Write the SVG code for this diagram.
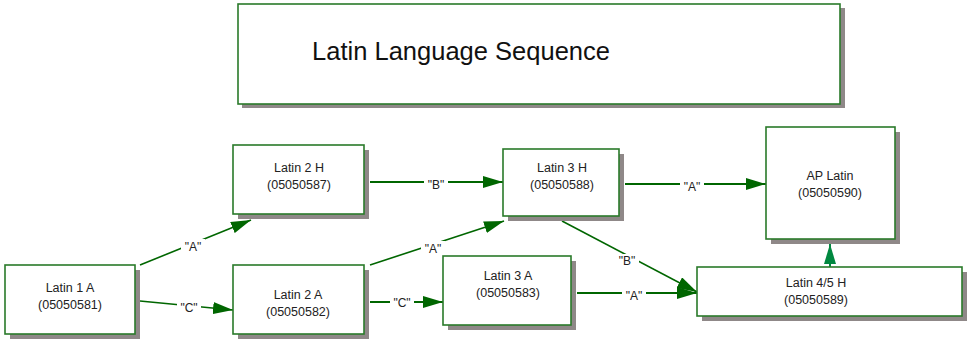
<svg xmlns="http://www.w3.org/2000/svg" width="969" height="339" viewBox="0 0 969 339">
<defs>
<style>
.box{fill:#fff;stroke:#2a7a2a;stroke-width:1.6}
.sh{fill:#8f8888}
.t{font-family:"Liberation Sans",Arial,sans-serif;font-size:12.5px;fill:#222;text-anchor:middle}
.lbl{font-family:"Liberation Sans",Arial,sans-serif;font-size:12px;fill:#222;text-anchor:middle}
.e{stroke:#006600;stroke-width:2.2;fill:none}
.d{stroke:#006600;stroke-width:1.6;fill:none}
.lb{fill:#fff}
</style>
<marker id="ah" viewBox="0 0 20 12" refX="20" refY="6" markerWidth="20" markerHeight="12" markerUnits="userSpaceOnUse" orient="auto">
<path d="M0,0 L20,6 L0,12 Z" fill="#006600"/>
</marker>
<marker id="ah2" viewBox="0 0 20 12" refX="20" refY="6" markerWidth="20" markerHeight="12" markerUnits="userSpaceOnUse" orient="auto">
<path d="M0,0 L20,6 L0,12 Z" fill="#008840"/>
</marker>
</defs>
<rect width="969" height="339" fill="#fff"/>

<g id="title">
<rect class="sh" x="242" y="8" width="603" height="100"/>
<rect class="box" x="238" y="4" width="602" height="100"/>
<text x="312" y="60" font-family="'Liberation Sans',Arial,sans-serif" font-size="25.5" fill="#111" textLength="298">Latin Language Sequence</text>
</g>

<g id="connectors">
<line class="d" x1="140" y1="265" x2="251" y2="220" marker-end="url(#ah)"/>
<rect class="lb" x="181" y="239" width="24" height="14"/>
<text class="lbl" x="193" y="251">"A"</text>

<line class="d" x1="140" y1="301" x2="233" y2="310" marker-end="url(#ah)"/>
<rect class="lb" x="177" y="300" width="24" height="14"/>
<text class="lbl" x="189" y="312">"C"</text>

<line class="e" x1="370" y1="182" x2="503" y2="182" marker-end="url(#ah)"/>
<rect class="lb" x="424" y="177" width="24" height="14"/>
<text class="lbl" x="436" y="189">"B"</text>

<line class="d" x1="370" y1="265" x2="504" y2="221" marker-end="url(#ah)"/>
<rect class="lb" x="421" y="241" width="24" height="14"/>
<text class="lbl" x="433" y="253">"A"</text>

<line class="e" x1="370" y1="302" x2="443" y2="302" marker-end="url(#ah)"/>
<rect class="lb" x="390" y="296" width="24" height="14"/>
<text class="lbl" x="402" y="307">"C"</text>

<line class="e" x1="625" y1="184" x2="766" y2="184" marker-end="url(#ah)"/>
<rect class="lb" x="680" y="179" width="24" height="14"/>
<text class="lbl" x="692" y="191">"A"</text>

<line class="d" x1="562" y1="221" x2="697" y2="292" marker-end="url(#ah)"/>
<rect class="lb" x="615" y="254" width="24" height="14"/>
<text class="lbl" x="627" y="265">"B"</text>

<line class="e" x1="577" y1="293" x2="697" y2="293" marker-end="url(#ah)"/>
<rect class="lb" x="622" y="288" width="24" height="14"/>
<text class="lbl" x="634" y="300">"A"</text>

<line x1="830" y1="267" x2="830" y2="244" stroke="#008840" stroke-width="2" marker-end="url(#ah2)"/>
</g>

<g id="n1">
<rect class="sh" x="10" y="270" width="130" height="69"/>
<rect class="box" x="5" y="265" width="130" height="69"/>
<text class="t" x="70" y="292">Latin 1 A</text>
<text class="t" x="70" y="309">(05050581)</text>
</g>

<g id="n2">
<rect class="sh" x="238" y="150" width="131" height="69"/>
<rect class="box" x="233" y="145" width="131" height="69"/>
<text class="t" x="299" y="172">Latin 2 H</text>
<text class="t" x="299" y="189">(05050587)</text>
</g>

<g id="n3">
<rect class="sh" x="238" y="270" width="131" height="69"/>
<rect class="box" x="233" y="265" width="131" height="69"/>
<text class="t" x="298" y="299">Latin 2 A</text>
<text class="t" x="298" y="316">(05050582)</text>
</g>

<g id="n4">
<rect class="sh" x="508" y="154" width="116" height="67"/>
<rect class="box" x="503" y="149" width="116" height="67"/>
<text class="t" x="562" y="172">Latin 3 H</text>
<text class="t" x="562" y="189">(05050588)</text>
</g>

<g id="n5">
<rect class="sh" x="448" y="261" width="128" height="69"/>
<rect class="box" x="443" y="256" width="128" height="69"/>
<text class="t" x="508" y="280">Latin 3 A</text>
<text class="t" x="508" y="297">(05050583)</text>
</g>

<g id="n6">
<rect class="sh" x="771" y="132" width="129" height="112"/>
<rect class="box" x="766" y="127" width="129" height="112"/>
<text class="t" x="830" y="180">AP Latin</text>
<text class="t" x="830" y="197">(05050590)</text>
</g>

<g id="n7">
<rect class="sh" x="702" y="272" width="265" height="49"/>
<rect class="box" x="697" y="267" width="265" height="49"/>
<text class="t" x="816" y="287">Latin 4/5 H</text>
<text class="t" x="816" y="304">(05050589)</text>
</g>
</svg>
